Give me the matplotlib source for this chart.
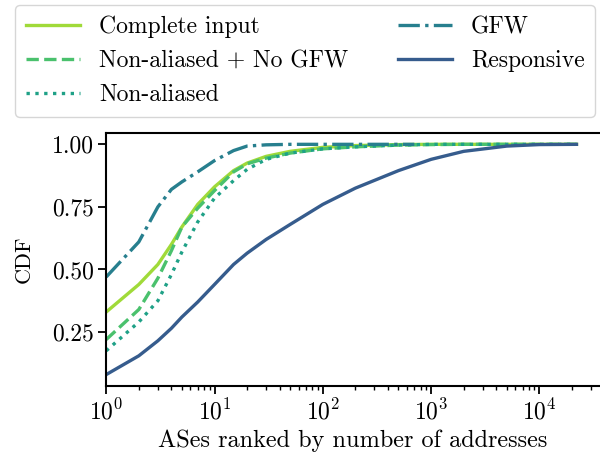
import matplotlib
matplotlib.use("Agg")
import matplotlib.pyplot as plt

plt.rcParams['font.family'] = 'cmr10'
plt.rcParams['mathtext.fontset'] = 'cm'
plt.rcParams['axes.formatter.use_mathtext'] = True
plt.rcParams['axes.unicode_minus'] = False

# ranks (x) and CDF values
ranks = [1, 2, 3, 4, 5, 7, 10, 15, 20, 30, 50, 100, 200, 500, 1000, 2000, 5000, 10000, 22000]
complete_input = [0.33, 0.44, 0.52, 0.60, 0.67, 0.76, 0.83, 0.895, 0.925, 0.952, 0.972, 0.988,
                  0.995, 0.999, 1.0, 1.0, 1.0, 1.0, 1.0]
nonaliased_nogfw = [0.22, 0.34, 0.465, 0.575, 0.67, 0.745, 0.815, 0.89, 0.922, 0.945, 0.965, 0.982,
                    0.99, 0.997, 0.999, 1.0, 1.0, 1.0, 1.0]
nonaliased = [0.175, 0.29, 0.375, 0.48, 0.57, 0.69, 0.785, 0.855, 0.90, 0.94, 0.965, 0.982,
              0.99, 0.997, 1.0, 1.0, 1.0, 1.0, 1.0]
gfw_ranks = [1, 2, 3, 4, 5, 7, 10, 15, 20, 30, 50, 100, 200, 700]
gfw = [0.47, 0.61, 0.75, 0.82, 0.85, 0.89, 0.935, 0.975, 0.993, 0.998, 1.0, 1.0, 1.0, 1.0]
responsive = [0.08, 0.155, 0.215, 0.265, 0.31, 0.37, 0.44, 0.52, 0.565, 0.62, 0.68, 0.76,
              0.825, 0.895, 0.94, 0.972, 0.993, 0.999, 1.0]

fig = plt.figure(figsize=(6, 4.58), dpi=100)
ax = fig.add_axes([0.177, 0.157, 0.823, 0.553])

lw = 2.4
ax.plot(ranks, complete_input, color='#a0da39', lw=lw, ls='-', label='Complete input')
ax.plot(ranks, nonaliased_nogfw, color='#4ac16d', lw=lw, ls='--', label='Non-aliased + No GFW')
ax.plot(ranks, nonaliased, color='#1fa187', lw=lw, ls=':', label='Non-aliased')
ax.plot(gfw_ranks, gfw, color='#277f8e', lw=lw, ls='-.', label='GFW')
ax.plot(ranks, responsive, color='#365c8d', lw=lw, ls='-', label='Responsive')

ax.set_xscale('log')
ax.set_xlim(left=1)
ax.set_yticks([0.25, 0.5, 0.75, 1.0])
ax.set_yticklabels(['0.25', '0.50', '0.75', '1.00'])
ax.tick_params(labelsize=17, width=1.3, length=5.5)
ax.tick_params(which='minor', width=1.0, length=3)
ax.set_xlabel('ASes ranked by number of addresses', fontsize=17.5)
ax.set_ylabel('CDF', fontsize=16, labelpad=13)
for s in ax.spines.values():
    s.set_linewidth(1.5)
ax.spines['right'].set_visible(False)

fig.legend(loc='upper left', bbox_to_anchor=(15 / 600, 1 - 5 / 458), borderaxespad=0,
           ncol=2, fontsize=17, frameon=True, handlelength=2.3, borderpad=0.45,
           labelspacing=0.5, handletextpad=0.8, columnspacing=2.1)

fig.savefig('out.png', dpi=100)
